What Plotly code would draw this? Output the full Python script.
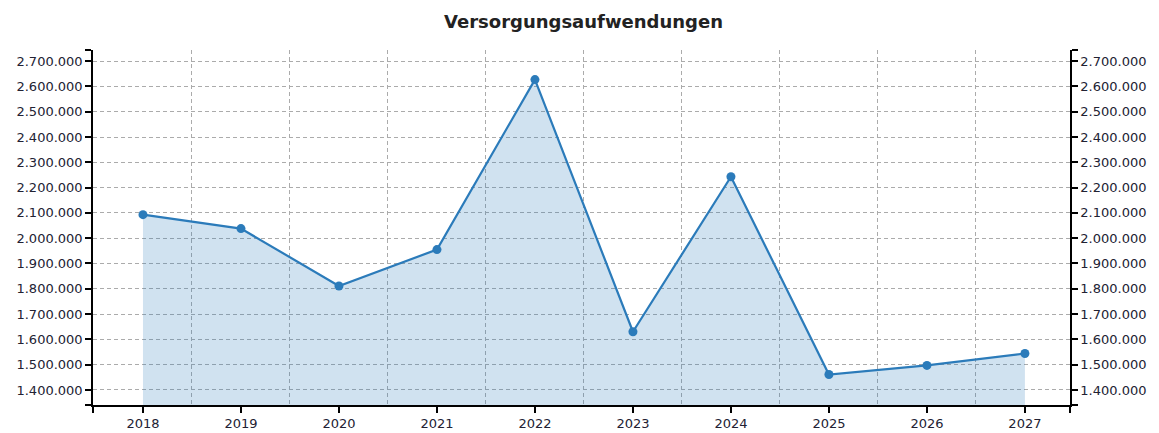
import plotly.graph_objects as go

years = [2018, 2019, 2020, 2021, 2022, 2023, 2024, 2025, 2026, 2027]
values = [2093000, 2038000, 1811000, 1955000, 2627000, 1630000, 2243000, 1461000, 1497000, 1544000]
y_ticks = [1400000, 1500000, 1600000, 1700000, 1800000, 1900000, 2000000,
           2100000, 2200000, 2300000, 2400000, 2500000, 2600000, 2700000]
title_text = "Versorgungsaufwendungen"

line_color = "#2b7bba"
fill_color = "rgba(43,123,186,0.22)"
grid_color = "#ababab"
font_family = "DejaVu Sans"
text_color = "#222233"

boundaries = [(years[i] + years[i + 1]) / 2 for i in range(len(years) - 1)]
y_range = [1340500, 2744000]
x_range = [years[0] - 0.51, years[-1] + 0.46]

axis_common = dict(showline=True, linecolor="black", linewidth=1.5,
                   ticks="outside", ticklen=6, tickcolor="black", tickwidth=1.5,
                   zeroline=False, automargin=False)

fig = go.Figure()
fig.add_trace(go.Scatter(
    x=years, y=values, mode="lines+markers",
    line=dict(color=line_color, width=2.2),
    marker=dict(color=line_color, size=9),
    fill="tozeroy", fillcolor=fill_color,
    hoverinfo="x+y", showlegend=False,
))
fig.add_trace(go.Scatter(x=[years[0]], y=[values[0]], xaxis="x2", yaxis="y2",
                         mode="markers", marker=dict(opacity=0),
                         hoverinfo="skip", showlegend=False))

fig.update_layout(
    width=1151, height=425,
    margin=dict(l=85, r=89, t=42, b=28),
    paper_bgcolor="white", plot_bgcolor="white",
    separators=",.",
    font=dict(family=font_family, size=13, color=text_color),
    title=dict(text="<b>" + title_text + "</b>", x=0.5, xanchor="center",
               y=1 - 14 / 425, yanchor="middle",
               font=dict(family=font_family, size=18, color="#222222")),
    xaxis=dict(
        range=x_range, tickvals=years, ticktext=[str(y) for y in years],
        showgrid=False, layer="above traces",
        minor=dict(tickvals=x_range, ticks="outside", ticklen=6,
                   tickcolor="black", tickwidth=1.5, showgrid=False),
        **axis_common,
    ),
    xaxis2=dict(
        range=x_range, overlaying="x", matches="x", side="bottom",
        tickvals=boundaries, showticklabels=False, ticks="",
        showgrid=True, gridcolor=grid_color, griddash="4px,3px", gridwidth=1,
        showline=False, zeroline=False, automargin=False,
    ),
    yaxis=dict(
        range=y_range, tickvals=y_ticks, tickformat=",d",
        showgrid=True, gridcolor=grid_color, griddash="4px,3px", gridwidth=1,
        minor=dict(tickvals=y_range, ticks="outside", ticklen=6,
                   tickcolor="black", tickwidth=1.5, showgrid=False),
        **axis_common,
    ),
    yaxis2=dict(
        range=y_range, tickvals=y_ticks, tickformat=",d",
        overlaying="y", side="right", matches="y", showgrid=False,
        minor=dict(tickvals=y_range, ticks="outside", ticklen=6,
                   tickcolor="black", tickwidth=1.5, showgrid=False),
        **axis_common,
    ),
)

fig.write_html("out.html")
